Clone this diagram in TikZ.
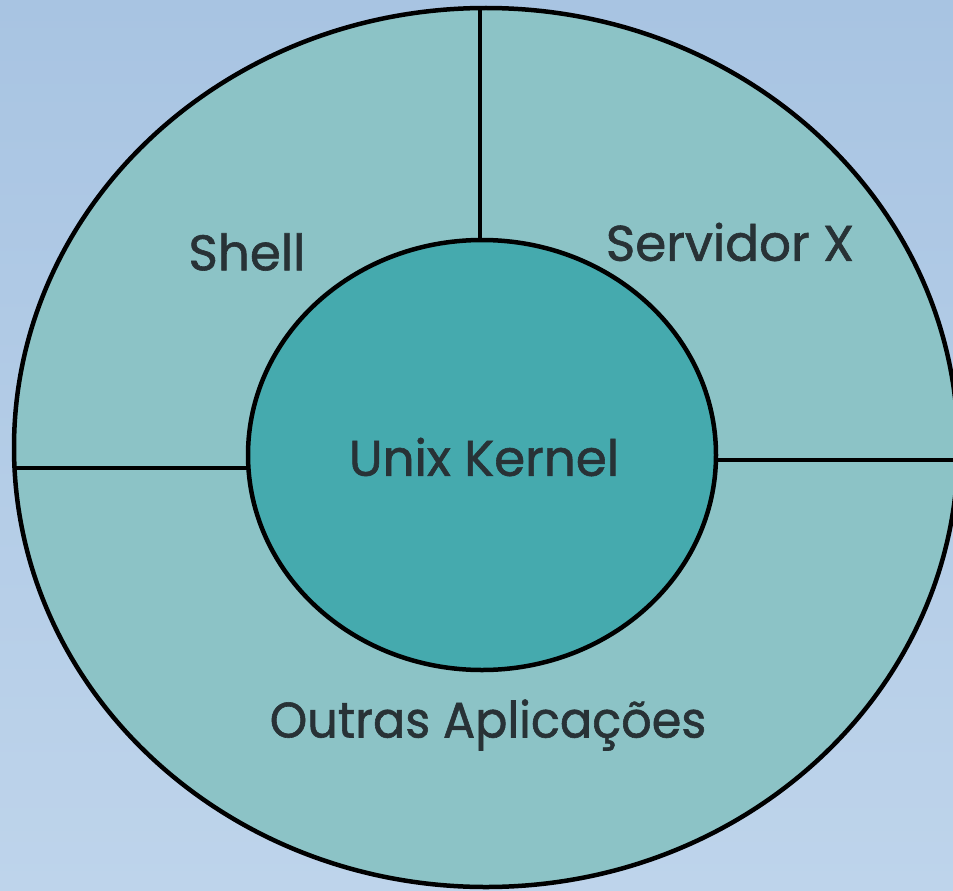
\documentclass[tikz,border=0pt]{standalone}
\usepackage{fontspec}
\setmainfont{Poppins}[FakeBold=1.2]
\usetikzlibrary{shapes.geometric}
\definecolor{bgblue}{RGB}{168,196,226}
\definecolor{bglight}{RGB}{190,212,235}
\definecolor{ringfill}{RGB}{140,195,198}
\definecolor{corefill}{RGB}{69,170,174}
\definecolor{txt}{RGB}{40,50,54}
\tikzset{
  ring/.style={ellipse, draw=black, line width=4.5pt, fill=ringfill, inner sep=0pt},
  core/.style={ellipse, draw=black, line width=4.5pt, fill=corefill, inner sep=0pt},
  divider/.style={draw=black, line width=4.5pt},
  label/.style={text=txt, font=\fontsize{50}{58}\selectfont, inner sep=0pt}
}
\begin{document}
\begin{tikzpicture}[x=1pt,y=-1pt]
\useasboundingbox (0,0) rectangle (953,891);
\shade[top color=bgblue, bottom color=bglight] (0,0) rectangle (953,891);
\begin{scope}
\clip (0,0) rectangle (953,891);
\node[ring, minimum width=944pt, minimum height=879pt] (outer) at (486,447.5) {};
\end{scope}
\node[core, minimum width=468pt, minimum height=430pt] (kernel) at (482,455) {};
\node[label] (kname) at (484,457) {Unix Kernel};
\coordinate (tin) at (480,240);
\coordinate (tout) at (480,8);
\coordinate (lin) at (248,468);
\coordinate (lout) at (14,468);
\coordinate (rin) at (716,460);
\coordinate (rout) at (960,460);
\draw[divider] (tin) -- (tout);
\draw[divider] (lin) -- (lout);
\draw[divider] (rin) -- (rout);
\node[label] (shell) at (247,252) {Shell};
\node[label] (xserver) at (730,242) {Servidor X};
\node[label, xscale=0.955] (apps) at (488,725) {Outras Aplicações};
\end{tikzpicture}
\end{document}
